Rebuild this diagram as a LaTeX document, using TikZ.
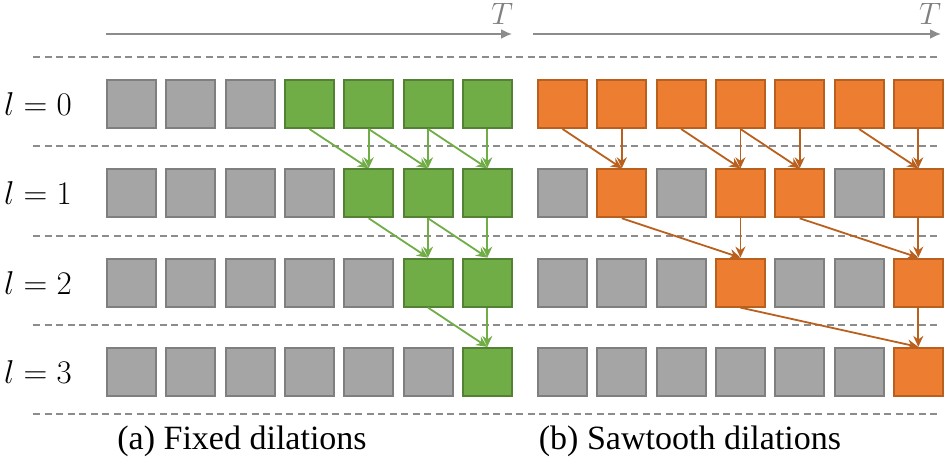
\RequirePackage{fix-cm}
\documentclass[tikz,border=0pt]{standalone}
\usepackage{fontspec}
\setmainfont{Liberation Serif}
\usetikzlibrary{arrows.meta}
\definecolor{cGray}{HTML}{A5A5A5}
\definecolor{cGrayLine}{HTML}{7F7F7F}
\definecolor{cGreen}{HTML}{70AD47}
\definecolor{cGreenLine}{HTML}{548235}
\definecolor{cOrange}{HTML}{ED7D31}
\definecolor{cOrangeLine}{HTML}{B9601F}
\definecolor{cDash}{HTML}{8C8C8C}
\tikzset{
    cell/.style={rectangle, draw, line width=2pt, minimum width=49pt, minimum height=48pt, inner sep=0pt},
    grayCell/.style={cell, fill=cGray, draw=cGrayLine},
    greenCell/.style={cell, fill=cGreen, draw=cGreenLine},
    orangeCell/.style={cell, fill=cOrange, draw=cOrangeLine},
    gArrow/.style={-{Stealth[length=11pt,width=10pt]}, line width=1.8pt, draw=cGreen},
    oArrow/.style={-{Stealth[length=11pt,width=10pt]}, line width=1.8pt, draw=cOrangeLine},
    timeArrow/.style={-{Latex[length=11pt,width=10pt]}, line width=1.8pt, draw=gray!90},
    rowLine/.style={dashed, dash pattern=on 7pt off 4.5pt, line width=1.6pt, draw=cDash},
    rowLab/.style={font=\fontsize{33}{36}\selectfont},
    tLab/.style={font=\fontsize{31}{34}\selectfont, text=gray},
    capLab/.style={font=\fontsize{34}{37}\selectfont}
}

\begin{document}
\begin{tikzpicture}[x=1pt,y=-1pt]
\useasboundingbox (0,0) rectangle (946,461);
\foreach \y in {57,146,236,325,414}
    \draw[rowLine] (33,\y) -- (938,\y);
\coordinate (ta0) at (106,34);
\coordinate (ta1) at (512,34);
\coordinate (tb0) at (533,34);
\coordinate (tb1) at (941,34);
\draw[timeArrow] (ta0) -- (ta1);
\draw[timeArrow] (tb0) -- (tb1);
\node[tLab] (tA) at (502,14) {$T$};
\node[tLab] (tB) at (930,14) {$T$};
\foreach \r in {0,...,3}
    \node[rowLab] (lab-\r) at (38,{104+\r*89.3}) {$l=\r$};
\foreach \r/\pat in {0/{0,0,0,1,1,1,1},1/{0,0,0,0,1,1,1},2/{0,0,0,0,0,1,1},3/{0,0,0,0,0,0,1}}
    \foreach \v [count=\c] in \pat {
        \ifnum\v=1
            \node[greenCell] (a-\r-\c) at ({131.5+(\c-1)*59.3},{104+\r*89.3}) {};
        \else
            \node[grayCell] (a-\r-\c) at ({131.5+(\c-1)*59.3},{104+\r*89.3}) {};
        \fi
    }
\foreach \r/\pat in {0/{1,1,1,1,1,1,1},1/{0,1,0,1,1,0,1},2/{0,0,0,1,0,0,1},3/{0,0,0,0,0,0,1}}
    \foreach \v [count=\c] in \pat {
        \ifnum\v=1
            \node[orangeCell] (b-\r-\c) at ({562.5+(\c-1)*59.3},{104+\r*89.3}) {};
        \else
            \node[grayCell] (b-\r-\c) at ({562.5+(\c-1)*59.3},{104+\r*89.3}) {};
        \fi
    }
\foreach \s/\t in {0-4/1-5,0-5/1-5,0-5/1-6,0-6/1-6,0-6/1-7,0-7/1-7,
                   1-5/2-6,1-6/2-6,1-6/2-7,1-7/2-7,2-6/3-7,2-7/3-7}
    \draw[gArrow] (a-\s.south) -- (a-\t.north);
\foreach \s/\t in {0-1/1-2,0-2/1-2,0-3/1-4,0-4/1-4,0-4/1-5,0-5/1-5,0-6/1-7,0-7/1-7,
                   1-2/2-4,1-4/2-4,1-5/2-7,1-7/2-7,2-4/3-7,2-7/3-7}
    \draw[oArrow] (b-\s.south) -- (b-\t.north);
\node[capLab] (capA) at (242,441) {(a) Fixed dilations};
\node[capLab] (capB) at (690,441) {(b) Sawtooth dilations};
\end{tikzpicture}
\end{document}
